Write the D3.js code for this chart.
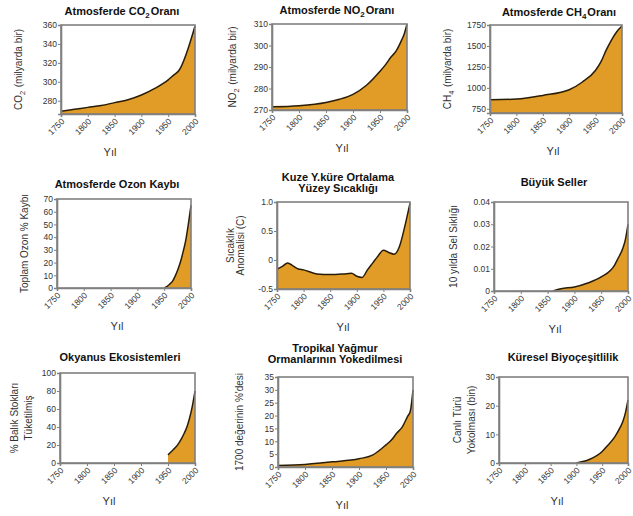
<!DOCTYPE html>
<html><head><meta charset="utf-8">
<script src="https://cdn.jsdelivr.net/npm/d3@7"></script>
<style>body{margin:0;background:#fff}svg{display:block}</style>
</head><body>
<svg id="c" width="633" height="516"></svg>
<script>
// ---------- DATA ----------
const xTickYears = [1750, 1800, 1850, 1900, 1950, 2000];
const xAxisLabel = "Yıl";

const co2Years   = [1750, 1775, 1800, 1825, 1850, 1875, 1900, 1925, 1950, 1960, 1970, 2000];
const co2Values  = [269, 271, 273, 275, 278, 281, 286, 293, 302, 307, 312, 359];
const co2Ticks   = [280, 300, 320, 340, 360];

const no2Years   = [1750, 1800, 1850, 1875, 1900, 1925, 1950, 1960, 1970, 1980, 1990, 1995, 2000];
const no2Values  = [271.5, 272, 273.5, 275, 277.3, 281.5, 288, 291, 294.5, 297.5, 302.5, 305.5, 310];
const no2Ticks   = [270, 280, 290, 300, 310];

const ch4Years   = [1750, 1800, 1850, 1900, 1925, 1950, 1960, 1970, 1980, 1990, 2000];
const ch4Values  = [858, 866, 910, 978, 1070, 1210, 1310, 1450, 1570, 1670, 1738];
const ch4Ticks   = [750, 1000, 1250, 1500, 1750];

const ozoneYears  = [1950, 1955, 1960, 1965, 1970, 1975, 1980, 1985, 1990, 1995, 2000];
const ozoneValues = [0, 1, 3, 5, 9, 14, 20, 28, 37, 50, 65];
const ozoneTicks  = [0, 10, 20, 30, 40, 50, 60, 70];

const tempYears  = [1750, 1760, 1770, 1780, 1790, 1800, 1825, 1850, 1875, 1890, 1900, 1910, 1920, 1930, 1940, 1950, 1960, 1970, 1980, 1990, 2000];
const tempValues = [-0.155, -0.11, -0.05, -0.10, -0.155, -0.17, -0.24, -0.25, -0.24, -0.23, -0.28, -0.30, -0.17, -0.05, 0.07, 0.17, 0.13, 0.10, 0.23, 0.57, 0.98];
const tempTicks  = [-0.5, 0, 0.5, 1.0];
const tempTickLabels = ["-0.5", "0", "0.5", "1.0"];

const floodYears  = [1860, 1875, 1900, 1925, 1950, 1975, 1980, 1990, 1995, 2000];
const floodValues = [0, 0.001, 0.0018, 0.0036, 0.0063, 0.0116, 0.014, 0.019, 0.023, 0.03];
const floodTicks  = [0, 0.01, 0.02, 0.03, 0.04];
const floodTickLabels = ["0", "0.01", "0.02", "0.03", "0.04"];

const oceanYears  = [1950, 1955, 1960, 1965, 1970, 1975, 1980, 1985, 1990, 1995, 2000];
const oceanValues = [9, 12, 15, 18, 22, 27, 33, 40, 50, 63, 80];
const oceanTicks  = [0, 20, 40, 60, 80, 100];

const forestYears  = [1750, 1800, 1850, 1900, 1925, 1950, 1960, 1970, 1980, 1990, 1995, 2000];
const forestValues = [0.6, 1, 2, 3.2, 4.6, 8.6, 10.5, 13.2, 15.5, 19.7, 21.7, 30];
const forestTicks  = [0, 5, 10, 15, 20, 25, 30, 35];

const bioYears  = [1900, 1925, 1950, 1960, 1975, 1985, 1990, 1995, 2000];
const bioValues = [0, 1.2, 4, 6, 9.3, 12.5, 14.5, 17.5, 22];
const bioTicks  = [0, 10, 20, 30];

const titles = [
  ["Atmosferde CO_{2}Oranı"],
  ["Atmosferde NO_{2}Oranı"],
  ["Atmosferde CH_{4}Oranı"],
  ["Atmosferde Ozon Kaybı"],
  ["Kuze Y.küre Ortalama", "Yüzey Sıcaklığı"],
  ["Büyük Seller"],
  ["Okyanus Ekosistemleri"],
  ["Tropikal Yağmur", "Ormanlarının Yokedilmesi"],
  ["Küresel Biyoçeşitlilik"]
];
const yLabels = [
  ["CO_{2} (milyarda bir)"],
  ["NO_{2} (milyarda bir)"],
  ["CH_{4} (milyarda bir)"],
  ["Toplam Ozon % Kaybı"],
  ["Sıcaklık", "Anomalisi (C)"],
  ["10 yılda Sel Sıklığı"],
  ["% Balık Stokları", "Tüketilmiş"],
  ["1700 değerinin %'desi"],
  ["Canlı Türü", "Yokolması (bin)"]
];

// ---------- LAYOUT ----------
const layout = [
  {box:[61,25,195,114],  domain:[266,360],  titleXY:[122,15],  ylabX:[-43],      xlabX:110},
  {box:[272,24,407,110], domain:[270,310],  titleXY:[337,14],  ylabX:[-40],      xlabX:342},
  {box:[490,25,622,113], domain:[700,1750], titleXY:[559,16],  ylabX:[-43],      xlabX:553},
  {box:[57,199,191,288], domain:[0,70],     titleXY:[117,188], ylabX:[-33],      xlabX:117},
  {box:[277,202,410,289],domain:[-0.5,1.0], titleXY:[338,181], ylabX:[-47,-37],  xlabX:343},
  {box:[494,202,628,291],domain:[0,0.04],   titleXY:[554,186], ylabX:[-41],      xlabX:555},
  {box:[60,373,195,463], domain:[0,100],    titleXY:[120,361], ylabX:[-46,-32],  xlabX:109},
  {box:[278,377,413,467],domain:[0,35],     titleXY:[335,352], ylabX:[-39],      xlabX:342},
  {box:[499,377,628,463],domain:[0,30],     titleXY:[563,361], ylabX:[-42,-28],  xlabX:557}
];

const series = [
  {years:co2Years, values:co2Values, ticks:co2Ticks},
  {years:no2Years, values:no2Values, ticks:no2Ticks},
  {years:ch4Years, values:ch4Values, ticks:ch4Ticks},
  {years:ozoneYears, values:ozoneValues, ticks:ozoneTicks},
  {years:tempYears, values:tempValues, ticks:tempTicks, labels:tempTickLabels},
  {years:floodYears, values:floodValues, ticks:floodTicks, labels:floodTickLabels},
  {years:oceanYears, values:oceanValues, ticks:oceanTicks},
  {years:forestYears, values:forestValues, ticks:forestTicks},
  {years:bioYears, values:bioValues, ticks:bioTicks}
];

const FONT = "'Liberation Sans', Arial, Helvetica, sans-serif";
const FILL = "#E09C26";
const LINE = "#2a1d08";
const FRAME = "#808080";

const svg = d3.select("#c");

function rich(textSel, str, subSize) {
  const parts = str.split(/(_\{[^}]*\})/);
  parts.forEach(p => {
    if (!p) return;
    const m = p.match(/^_\{(.*)\}$/);
    if (m) {
      textSel.append("tspan").attr("dy", 3).attr("font-size", subSize).text(m[1]);
      textSel.append("tspan").attr("dy", -3).text("\u200A");
    } else {
      textSel.append("tspan").text(p);
    }
  });
}

series.forEach((s, i) => {
  const L = layout[i];
  const [x0, y0, x1, y1] = L.box;
  const g = svg.append("g");
  const x = d3.scaleLinear().domain([1750, 2000]).range([x0, x1]);
  const y = d3.scaleLinear().domain(L.domain).range([y1, y0]);
  const pts = s.years.map((yr, k) => [yr, s.values[k]]);

  // area
  g.append("path")
    .datum(pts)
    .attr("d", d3.area().x(d => x(d[0])).y0(y1).y1(d => y(d[1])).curve(d3.curveMonotoneX))
    .attr("fill", FILL);
  g.append("path")
    .datum(pts)
    .attr("d", d3.line().x(d => x(d[0])).y(d => y(d[1])).curve(d3.curveMonotoneX))
    .attr("fill", "none").attr("stroke", LINE).attr("stroke-width", 1.5);

  // frame
  g.append("rect").attr("x", x0).attr("y", y0).attr("width", x1 - x0).attr("height", y1 - y0)
    .attr("fill", "none").attr("stroke", FRAME).attr("stroke-width", 1.6);

  // x axis (ticks via d3 axis, labels rotated separately)
  const xa = g.append("g").attr("transform", `translate(0,${y1})`)
    .call(d3.axisBottom(x).tickValues(xTickYears).tickSize(3).tickFormat(""));
  xa.select(".domain").attr("stroke", FRAME).attr("stroke-width", 1.6);
  xa.selectAll(".tick line").attr("stroke", FRAME);
  g.selectAll("text.xt").data(xTickYears).join("text").attr("class", "xt")
    .attr("transform", d => `translate(${x(d) + 4},${y1 + 8}) rotate(-45)`)
    .attr("text-anchor", "end")
    .attr("font-family", FONT).attr("font-size", 8.5).attr("fill", "#333")
    .text(d => d3.format("d")(d));

  // y axis
  const ya = g.append("g").attr("transform", `translate(${x0},0)`)
    .call(d3.axisLeft(y).tickValues(s.ticks).tickSize(3)
      .tickFormat((d, k) => s.labels ? s.labels[k] : d3.format("")(d)));
  ya.select(".domain").attr("stroke", FRAME).attr("stroke-width", 1.6);
  ya.selectAll(".tick line").attr("stroke", FRAME);
  ya.selectAll(".tick text").attr("font-family", FONT).attr("font-size", 8.5).attr("fill", "#333").attr("x", -4);

  // titles
  titles[i].forEach((t, k) => {
    const tt = svg.append("text")
      .attr("x", L.titleXY[0]).attr("y", L.titleXY[1] + k * 11)
      .attr("text-anchor", "middle").attr("font-family", FONT)
      .attr("font-weight", "bold").attr("font-size", 11).attr("fill", "#111");
    rich(tt, t, 8);
  });

  // y label
  const cy = (y0 + y1) / 2;
  yLabels[i].forEach((t, k) => {
    const tx = x0 + L.ylabX[k];
    const tt = svg.append("text")
      .attr("transform", `translate(${tx},${cy}) rotate(-90)`)
      .attr("text-anchor", "middle").attr("dy", "0.35em")
      .attr("font-family", FONT).attr("font-size", 10).attr("fill", "#333");
    rich(tt, t, 7.5);
  });

  // x label
  svg.append("text").attr("x", L.xlabX).attr("y", y1 + 42)
    .attr("text-anchor", "middle").attr("font-family", FONT).attr("font-size", 11).attr("fill", "#333")
    .text(xAxisLabel);
});
</script>
</body></html>
